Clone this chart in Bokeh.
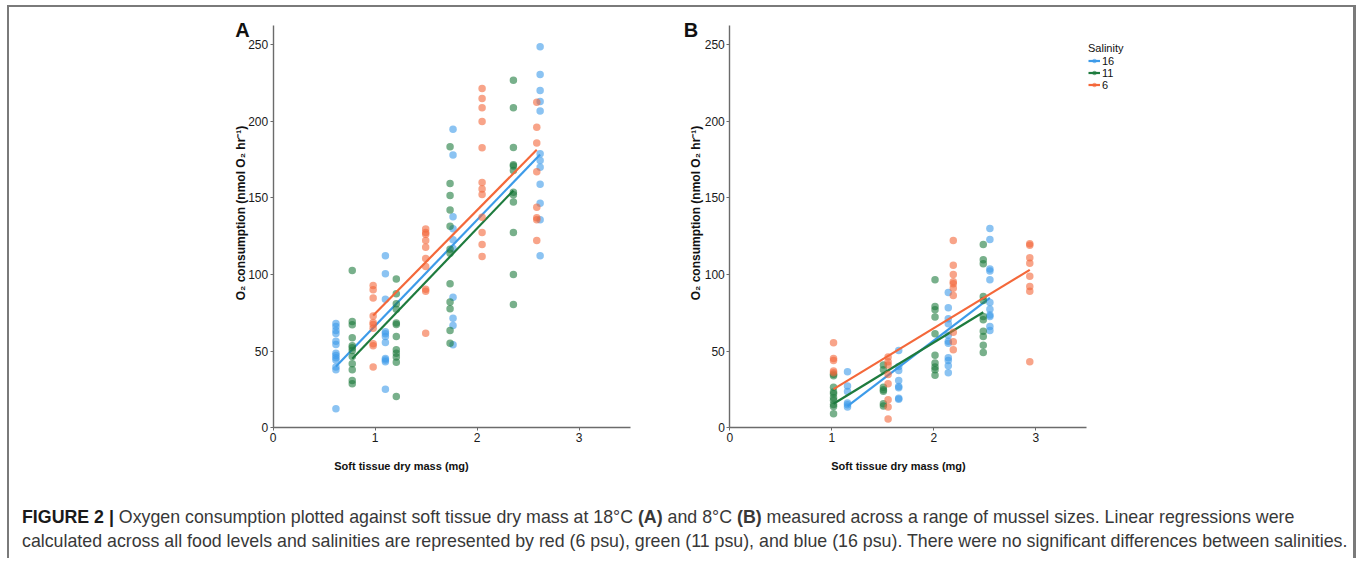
import math
import numpy as np
from bokeh.plotting import figure
from bokeh.models import Range1d, FixedTicker, Label, Legend, LegendItem, Div
from bokeh.layouts import row, column
from bokeh.embed import file_html
from bokeh.resources import INLINE

# ---------------- data ----------------
salinities = ["16", "11", "6"]
line_colors = {"16": "#3d9be9", "11": "#1e7b3e", "6": "#f4683a"}
x_ticks = [0, 1, 2, 3]
y_ticks = [0, 50, 100, 150, 200, 250]

# Panel A: 18 °C  (soft tissue dry mass groups, O2 consumption values)
A16_mass = [0.615, 1.10, 1.763, 2.617]
A16_o2 = [
    [68, 66, 63.5, 61.5, 56.5, 54.3, 48.7, 47.2, 45.7, 44.3, 39.6, 37.8, 12.4],
    [112.2, 100.4, 83.9, 62.6, 61.3, 59.6, 55.7, 45.2, 44.3, 43, 25.2],
    [194.8, 178, 137.6, 129.8, 122.6, 117, 85.2, 71.5, 66.7, 54.1],
    [248.5, 230.4, 220, 212.8, 206.7, 178.7, 174.3, 170, 158.9, 146.5, 135.7, 112.2],
]
A11_mass = [0.775, 1.207, 1.734, 2.355]
A11_o2 = [
    [102.6, 69.3, 67.2, 58.7, 53.5, 52.2, 50.4, 46.5, 41.7, 37.8, 30.9, 28.7],
    [97, 87.4, 80.9, 77.4, 68.3, 67.4, 59.6, 50.9, 48.7, 46.1, 42.8, 20.4],
    [183.3, 159.3, 151.5, 142, 131.5, 116.5, 113.9, 93.9, 82, 77.6, 63.5, 55.2],
    [226.7, 208.7, 182.8, 171.5, 170.7, 167.8, 153.7, 152, 147.2, 127.4, 100, 80.4],
]
A6_mass = [0.98, 1.495, 2.048, 2.584]
A6_o2 = [
    [92.8, 90, 84.6, 73, 68.7, 67.4, 65, 54.8, 53.5, 39.6],
    [129.6, 127.4, 126.3, 122.2, 117.8, 110.4, 105.2, 90.4, 89.1, 61.7],
    [221.3, 214.8, 208.7, 199.8, 182.6, 160, 155.7, 152.2, 137.4, 127.4, 119.6, 111.7],
    [212.4, 196.1, 185.7, 167, 143.9, 137, 135.7, 122.2],
]
# regression lines (start mass, end mass, start O2, end O2)
A16_fit = [0.615, 2.617, 40.0, 178.3]
A11_fit = [0.775, 2.355, 45.0, 154.8]
A6_fit = [0.98, 2.584, 73.3, 181.3]

# Panel B: 8 °C
B16_mass = [1.154, 1.656, 2.142, 2.55]
B16_o2 = [
    [36.5, 27.2, 23.7, 16.1, 15, 13.5],
    [50.4, 40, 37.4, 30.9, 27, 26.1, 19.3, 18.7],
    [88.3, 78.3, 71.1, 67.8, 60.4, 56.5, 55.2, 45.7, 43.9, 40.4, 35.9],
    [130, 122.8, 103.5, 102.2, 96.5, 81.7, 77.4, 73.5, 72.6, 66.1, 63.5],
]
B11_mass = [1.017, 1.506, 2.012, 2.485]
B11_o2 = [
    [35, 34, 26.5, 23.3, 22.2, 19.6, 18, 15.2, 13.9, 9.1],
    [40.9, 37.8, 26.5, 24.8, 23.9, 15.7, 14.3],
    [96.5, 79.1, 77, 72.2, 61.3, 47.4, 42.2, 39.6, 37.8, 34.3],
    [119.6, 109.6, 107, 85.7, 83, 72.6, 70.4, 63, 59.6, 53.9, 49.1],
]
B6_mass = [1.017, 1.552, 2.191, 2.941]
B6_o2 = [
    [55.4, 45.2, 43.9, 37, 35.9],
    [46.1, 43, 40.9, 34.8, 28.7, 18.3, 13.5, 5.7],
    [122.2, 106.1, 100, 95.2, 93.9, 91.1, 86.3, 62.4, 56.1, 50.9],
    [120, 119.1, 110.9, 107.4, 98.9, 92.2, 89.1, 43],
]
B16_fit = [1.154, 2.55, 14.1, 84.8]
B11_fit = [1.017, 2.485, 15.7, 75.4]
B6_fit = [1.017, 2.941, 25.2, 103.0]

panelA = {"16": (A16_mass, A16_o2, A16_fit), "11": (A11_mass, A11_o2, A11_fit), "6": (A6_mass, A6_o2, A6_fit)}
panelB = {"16": (B16_mass, B16_o2, B16_fit), "11": (B11_mass, B11_o2, B11_fit), "6": (B6_mass, B6_o2, B6_fit)}

FONT = "Liberation Sans"
AXIS_COL = "#6b6b6b"
X_MAX, Y_MAX = 3.5, 262.4
Y_LABEL = "O\u2082 consumption (nmol O\u2082 hr\u207b\u00b9)"
X_LABEL = "Soft tissue dry mass (mg)"

# ---------------- layout (pixels on the page) ----------------
TOP, BOT = 5, 485          # figure top/bottom
Y0_PX, Y_TOP_PX = 427.3, 25.0
SY = (Y0_PX - Y_TOP_PX) / Y_MAX
SX = 102.0


def flatten(mass, o2):
    xs, ys = [], []
    for m, vals in zip(mass, o2):
        xs += [m] * len(vals)
        ys += list(vals)
    return xs, ys


def screen_label(p, fig_left, px, py, text, size, angle=0.0):
    p.add_layout(Label(x=px - fig_left, y=BOT - py, x_units="screen", y_units="screen", text=text,
                       angle=angle, text_font=FONT, text_font_size=size, text_font_style="bold",
                       text_color="#111111", text_baseline="middle", text_align="center"))


def make_panel(letter, data, fig_left, fig_right, x0_px, letter_px, xlabel_px, ylabel_px, legend=False):
    width = fig_right - fig_left
    height = BOT - TOP
    xr = Range1d((fig_left - x0_px) / SX, (fig_right - x0_px) / SX)
    yr = Range1d((Y0_PX - BOT) / SY, (Y0_PX - TOP) / SY)
    p = figure(width=width, height=height, x_range=xr, y_range=yr,
               output_backend="svg", toolbar_location=None,
               min_border_left=0, min_border_right=0, min_border_top=0, min_border_bottom=0)
    p.outline_line_color = None
    p.grid.visible = False
    p.background_fill_color = None
    p.border_fill_color = None
    for ax in (p.xaxis[0], p.yaxis[0]):
        ax.fixed_location = 0
        ax.axis_line_color = AXIS_COL
        ax.axis_line_width = 1.4
        ax.major_tick_line_color = AXIS_COL
        ax.major_tick_out = 3
        ax.major_tick_in = 0
        ax.minor_tick_line_color = None
        ax.major_label_text_font = FONT
        ax.major_label_text_font_size = "12px"
        ax.major_label_text_color = "#1a1a1a"
        ax.major_label_standoff = 2
    p.xaxis.bounds = (0, X_MAX)
    p.yaxis.bounds = (0, Y_MAX)
    p.xaxis.ticker = FixedTicker(ticks=x_ticks)
    p.yaxis.ticker = FixedTicker(ticks=y_ticks)

    items = []
    for s in salinities:
        mass, o2, fit = data[s]
        xs, ys = flatten(mass, o2)
        col = line_colors[s]
        sc = p.scatter(xs, ys, size=7.5, fill_color=col, fill_alpha=0.6, line_color=None)
        ln = p.line([fit[0], fit[1]], [fit[2], fit[3]], line_color=col, line_width=2.2)
        items.append(LegendItem(label=s, renderers=[ln, sc]))

    screen_label(p, fig_left, letter_px, 29.5, letter, "20px")
    screen_label(p, fig_left, xlabel_px, 465.5, X_LABEL, "11px")
    screen_label(p, fig_left, ylabel_px, 212.5, Y_LABEL, "12px", angle=math.pi / 2)

    if legend:
        lg = Legend(items=items, title="Salinity", location=(1088 - fig_left, BOT - 90.5))
        lg.title_text_font = FONT
        lg.title_text_font_size = "11px"
        lg.title_text_font_style = "normal"
        lg.title_text_color = "#111111"
        lg.title_standoff = 1
        lg.label_text_font = FONT
        lg.label_text_font_size = "11px"
        lg.label_text_color = "#111111"
        lg.label_height = 11
        lg.glyph_height = 11
        lg.glyph_width = 12
        lg.label_standoff = 2
        lg.spacing = 0
        lg.padding = 2
        lg.margin = 0
        lg.border_line_color = None
        lg.background_fill_alpha = 0
        p.add_layout(lg)
    return p


figA = make_panel("A", panelA, 7, 675, 272.7, 242.0, 401.0, 240.0)
figB = make_panel("B", panelB, 675, 1356, 729.3, 690.5, 898.0, 695.5, legend=True)

caption = Div(
    text=('<div style="font-family: \'Liberation Sans\', Arial, sans-serif; font-size: 17.8px; '
          'line-height: 24px; color: #383838; white-space: nowrap; '
          'padding: 15px 0 0 10px;">'
          '<b style="color:#1a1a1a">FIGURE 2 |</b> Oxygen consumption plotted against soft tissue dry mass at '
          '18\u00b0C <b>(A)</b> and 8\u00b0C <b>(B)</b> measured across a range of mussel sizes. '
          'Linear regressions were<br>calculated across all food levels and salinities are represented by '
          'red (6 psu), green (11 psu), and blue (16 psu). There were no significant differences between '
          'salinities.</div>'),
    width=1349, height=73)

layout = column(row(figA, figB), caption, margin=(5, 0, 0, 7), width=1349, height=553,
                styles={"box-shadow": "inset 2px 0 0 #7a7a7a, inset -3px 0 0 #7a7a7a, inset 0 2px 0 #7a7a7a",
                        "background-color": "white"})

open("out.html", "w").write(file_html(layout, INLINE))
